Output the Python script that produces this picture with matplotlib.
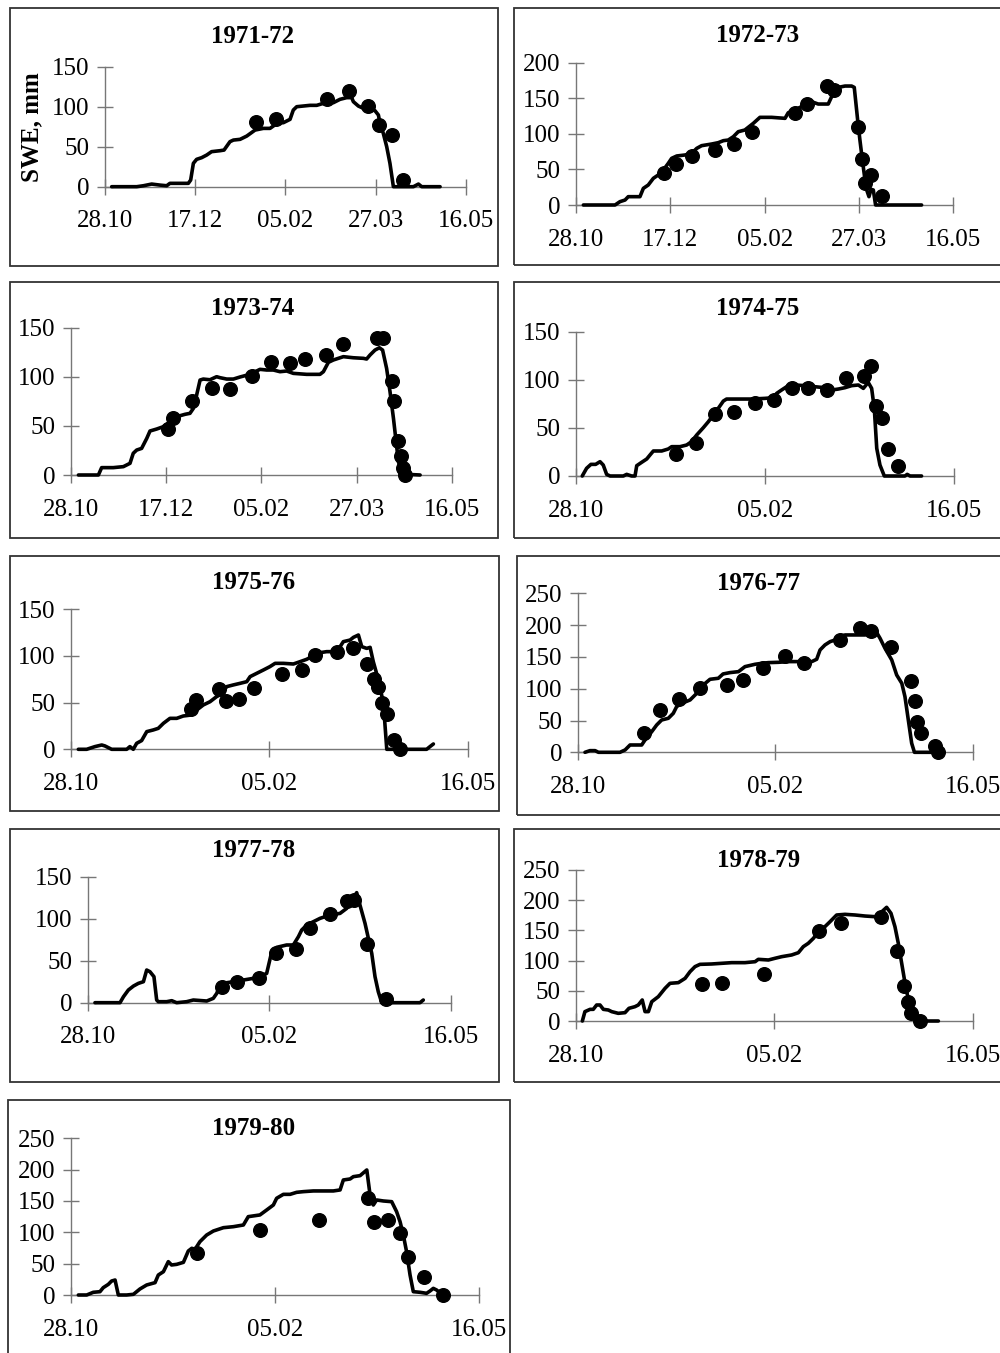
import matplotlib
matplotlib.use("Agg")
import matplotlib.pyplot as plt
from matplotlib.patches import Rectangle

# ---------------- data (day = days since 28.10, swe in mm) ----------------
seasons = ["1971-72", "1972-73", "1973-74", "1974-75", "1975-76",
           "1976-77", "1977-78", "1978-79", "1979-80"]

sim_day_1971 = [3.7, 17.6, 21.3, 25.9, 30.5, 34.2, 36.0, 46.2, 47.5, 49.0, 50.8, 53.6, 56.4, 59.1, 63.8, 66.0,
                69.3, 71.2, 74.9, 78.6, 83.2, 87.8, 91.5, 93.3, 96.1, 98.9, 102.6, 104.4, 106.3, 113.7, 117.4,
                121.1, 124.8, 126.6, 130.3, 134.0, 136.8, 137.7, 140.5, 143.3, 146.9, 149.7, 151.6, 152.5,
                154.3, 156.2, 158.0, 159.9, 171.0, 173.8, 175.6, 185.8]
sim_swe_1971 = [0, 0, 1.2, 3.3, 2, 1.2, 4.2, 4.2, 8.3, 29.2, 34.2, 36.3, 39.6, 43.8, 45, 45.8, 56.3, 58.3, 59.2,
                63.3, 70.8, 72.9, 72.9, 75.8, 80, 80, 84.2, 95.8, 100, 101.7, 101.7, 104.2, 106.3, 105, 109.2,
                111.3, 111.3, 106.3, 100.8, 97.9, 97.9, 95, 89.6, 79.2, 66.7, 50, 29.2, 0, 0, 3.3, 0, 0]
obs_day_1971 = [83.7, 94.8, 122.9, 135.5, 146.0, 152.1, 159.0, 165.1]
obs_swe_1971 = [81, 85, 110, 120, 101, 77, 65, 9]

sim_day_1972 = [3.9, 20.7, 23.3, 26.0, 27.7, 33.9, 35.7, 38.3, 41.0, 43.6, 46.3, 48.9, 50.7, 53.4, 57.8, 61.3,
                64.0, 66.6, 71.9, 75.4, 78.1, 80.7, 83.4, 86.0, 89.5, 94.0, 97.5, 103.7, 110.8, 112.5, 116.1,
                118.7, 121.4, 124.9, 128.4, 133.7, 135.5, 137.3, 139.0, 142.6, 146.1, 147.5, 148.2, 149.3,
                150.5, 151.8, 153.2, 154.1, 155.3, 156.4, 157.6, 158.8, 183.2]
sim_swe_1972 = [0, 0, 4.7, 7.0, 11.7, 11.7, 23.4, 28.1, 37.5, 42.2, 49.2, 58.5, 65.6, 68.9, 70.3, 72.6, 79.6,
                83.4, 85.7, 87.6, 90.4, 91.3, 96.0, 103.0, 105.4, 114.8, 123.2, 123.2, 121.8, 129.7, 133.5,
                137.2, 140.5, 145.2, 141.9, 141.9, 152.2, 165.3, 165.3, 167.2, 167.2, 165.3, 147.5, 119.4,
                91.3, 63.2, 35.1, 21.1, 11.7, 22.0, 21.1, 0, 0]
obs_day_1972 = [46.8, 52.8, 61.3, 73.7, 83.6, 93.5, 116.1, 122.4, 132.9, 136.9, 149.6, 151.8, 153.2, 156.2, 162.4]
obs_swe_1972 = [45, 58, 69, 77, 86, 103, 129, 142, 167, 162, 109, 65, 31, 42, 13]

sim_day_1973 = [3.9, 14.4, 16.1, 22.2, 27.5, 31.0, 32.7, 34.5, 37.1, 39.8, 41.5, 45.0, 48.5, 52.0, 55.5, 59.9,
                62.5, 64.3, 66.0, 67.8, 69.5, 73.0, 76.5, 78.3, 81.8, 85.3, 88.8, 94.0, 99.3, 102.8, 106.3,
                109.8, 113.3, 116.8, 123.8, 130.8, 132.6, 135.2, 137.8, 143.1, 148.3, 153.6, 155.3, 157.1,
                159.7, 162.0, 163.7, 165.8, 167.6, 169.4, 170.8, 172.0, 173.7, 176.0, 183.4]
sim_swe_1973 = [0, 0, 7.5, 7.5, 8.5, 11.9, 22.1, 25.4, 27.1, 37.3, 44.8, 46.8, 49.2, 54.3, 59.4, 61.8, 62.8,
                67.9, 81.4, 96.7, 97.7, 97.0, 100.1, 99.1, 97.7, 97.7, 99.8, 102.5, 107.6, 106.9, 106.9, 105.2,
                105.9, 103.5, 102.5, 102.5, 105.2, 114.7, 117.1, 120.5, 119.4, 118.8, 118.1, 122.2, 127.2,
                129.6, 127.2, 108.6, 84.8, 57.7, 33.9, 13.6, 3.4, 0.7, 0]
obs_day_1973 = [51.1, 53.4, 63.4, 73.9, 83.5, 95.3, 105.1, 115.1, 122.9, 134.0, 143.1, 160.6, 164.1, 168.8,
                169.7, 172.0, 173.2, 174.6, 175.7]
obs_swe_1973 = [47, 58, 75, 89, 88, 101, 115, 114, 118, 122, 133, 140, 140, 96, 75, 35, 19, 7.5, 0]

sim_day_1974 = [3.3, 5.6, 7.9, 10.4, 12.7, 14.4, 16.2, 18.0, 25.0, 26.8, 29.4, 31.2, 32.1, 34.7, 37.4, 39.1,
                40.9, 45.3, 48.8, 50.6, 55.0, 58.5, 61.1, 63.8, 67.3, 70.0, 72.6, 75.2, 77.9, 79.6, 85.8, 92.9,
                99.9, 104.3, 106.1, 108.7, 112.2, 115.8, 121.1, 126.3, 131.6, 135.2, 138.7, 142.2, 145.7,
                149.3, 151.9, 154.5, 156.3, 157.7, 159.0, 160.7, 163.0, 173.9, 175.1, 176.6, 182.7]
sim_swe_1974 = [0, 8.0, 12.1, 12.1, 14.9, 11.4, 1.7, 0, 0, 1.7, 0, 0, 10.7, 14.2, 17.7, 21.8, 26.0, 26.0, 28.1,
                30.5, 30.5, 32.2, 35.7, 42.6, 50.2, 56.5, 63.4, 70.3, 77.9, 80.0, 80.0, 80.0, 80.7, 81.4, 85.9,
                89.4, 93.9, 94.6, 93.9, 92.8, 91.8, 89.4, 90.4, 91.8, 93.9, 94.6, 91.1, 97.3, 91.1, 70.3, 28.7,
                11.4, 0, 0, 1.7, 0, 0]
obs_day_1974 = [52.7, 63.4, 73.5, 83.7, 94.6, 104.6, 114.4, 122.5, 132.5, 142.6, 152.4, 155.8, 158.6, 161.6,
                165.1, 170.4]
obs_swe_1974 = [22.5, 34.6, 64.1, 66.2, 76.2, 79.0, 91.8, 91.8, 89.4, 101.5, 103.9, 114.3, 72.7, 59.9, 28.1, 10.7]

sim_day_1975 = [3.7, 7.9, 12.1, 15.5, 17.1, 20.5, 28.1, 29.7, 31.4, 33.1, 35.6, 38.2, 41.5, 44.0, 46.6, 49.9,
                53.3, 56.6, 60.8, 63.4, 66.7, 70.1, 73.4, 75.9, 78.5, 81.8, 85.2, 88.6, 90.3, 93.6, 97.0, 100.3,
                102.9, 107.1, 112.1, 115.5, 118.8, 123.0, 125.5, 128.9, 132.3, 134.8, 137.3, 140.7, 142.4,
                144.9, 146.6, 149.1, 150.8, 152.4, 155.0, 157.5, 159.2, 179.3, 181.0, 182.7]
sim_swe_1975 = [0, 0, 2.9, 4.6, 3.6, 0, 0, 2.9, 0, 6.4, 9.3, 18.9, 20.7, 22.4, 27.8, 33.1, 33.1, 35.6, 36.7,
                42.0, 47.4, 50.9, 56.3, 59.1, 67.0, 68.8, 70.5, 72.3, 77.7, 81.2, 84.8, 88.4, 91.9, 91.9, 91.2,
                93.7, 96.2, 100.8, 103.3, 104.4, 104.4, 106.9, 115.1, 116.8, 119.7, 122.2, 109.7, 107.9, 109.0,
                93.7, 74.1, 49.2, 0, 0, 2.9, 5.7]
obs_day_1975 = [60.3, 63.0, 74.8, 78.0, 84.9, 92.3, 106.2, 116.6, 123.0, 133.9, 142.0, 149.1, 152.8, 155.0,
                157.0, 159.2, 163.0, 165.9]
obs_swe_1975 = [42.7, 52.7, 64.1, 52.0, 53.8, 65.9, 80.5, 84.8, 100.8, 104.4, 107.9, 91.2, 74.8, 67.0, 49.9,
                37.4, 10.0, 0]

sim_day_1976 = [3.7, 6.2, 8.8, 10.5, 21.4, 24.0, 26.5, 32.4, 34.1, 37.5, 40.0, 42.5, 45.9, 48.4, 50.1, 52.7,
                56.9, 60.3, 63.6, 67.0, 71.2, 73.6, 77.1, 81.4, 84.7, 89.8, 93.2, 96.5, 101.6, 106.7, 111.7,
                118.5, 121.0, 122.7, 125.2, 127.8, 130.3, 132.8, 135.4, 140.4, 145.5, 148.9, 151.4, 153.1,
                155.6, 159.0, 161.5, 164.1, 165.7, 167.4, 169.1, 170.5, 182.6]
sim_swe_1976 = [0, 2.6, 2.6, 0, 0, 3.7, 11.5, 11.5, 19.4, 32.5, 43.0, 50.8, 53.5, 61.3, 71.8, 77.0, 82.3, 92.8,
                105.9, 114.8, 116.4, 123.2, 125.3, 126.8, 134.7, 138.4, 139.9, 141.0, 141.5, 142.6, 142.6, 142.6,
                146.3, 160.9, 168.8, 174.0, 176.6, 181.9, 184.5, 184.5, 184.5, 189.7, 188.2, 179.2, 163.5,
                145.2, 121.6, 108.5, 87.5, 50.8, 14.2, 0, 0]
obs_day_1976 = [33.8, 41.7, 51.3, 61.9, 75.4, 83.9, 93.7, 105.0, 114.8, 132.8, 143.0, 148.5, 158.5, 168.6,
                170.8, 172.0, 173.8, 180.9, 182.6]
obs_swe_1976 = [30.9, 66.6, 83.3, 100.6, 105.9, 113.7, 132.1, 151.5, 141.0, 176.6, 195.0, 190.8, 165.1, 112.7,
                81.2, 48.2, 29.9, 10.0, 0]

sim_day_1977 = [4.0, 17.8, 19.7, 22.4, 25.2, 27.9, 30.7, 32.5, 34.3, 36.5, 38.0, 38.9, 43.5, 46.3, 49.0, 54.5,
                58.2, 65.6, 69.2, 71.1, 72.9, 76.6, 80.3, 85.8, 91.3, 94.9, 98.6, 101.4, 104.1, 109.6, 113.3,
                116.1, 117.9, 120.7, 124.3, 128.0, 133.5, 139.0, 142.7, 145.5, 148.2, 150.0, 152.8, 156.5,
                158.3, 160.1, 162.0, 183.1, 184.9]
sim_swe_1977 = [0, 0, 7.1, 15.1, 19.8, 23.0, 25.0, 38.9, 36.9, 31.0, 3.2, 1.2, 1.2, 2.4, 0, 1.2, 3.2, 2.0, 5.2,
                11.1, 21.0, 23.8, 25.0, 27.0, 29.0, 31.0, 34.9, 60.7, 65.9, 68.7, 68.7, 78.6, 86.5, 92.5, 96.4,
                100.4, 104.4, 106.3, 112.3, 122.2, 131.0, 116.3, 94.4, 58.7, 31.0, 13.1, 0, 0, 3.2]
obs_day_1977 = [73.8, 82.5, 94.6, 103.8, 114.8, 122.5, 133.5, 142.7, 146.7, 153.7, 164.2]
obs_swe_1977 = [19.0, 24.2, 29.8, 58.7, 63.5, 88.5, 105.2, 121.4, 122.2, 69.8, 4.4]

sim_day_1978 = [3.2, 4.5, 7.1, 8.7, 10.4, 12.1, 13.8, 16.3, 18.0, 21.3, 24.7, 26.7, 29.7, 31.4, 33.4, 34.8,
                36.5, 38.2, 41.5, 44.9, 47.4, 51.6, 55.0, 57.5, 60.0, 62.5, 68.4, 73.4, 78.5, 85.2, 90.3, 91.9,
                97.0, 100.3, 103.7, 108.7, 112.1, 114.6, 117.1, 119.7, 122.2, 125.5, 128.1, 131.4, 135.6,
                140.7, 145.7, 150.8, 153.3, 156.6, 158.8, 160.8, 162.5, 164.2, 165.9, 167.6, 169.2, 172.6,
                176.0, 182.7]
sim_swe_1978 = [0, 15.5, 19.3, 19.3, 26.5, 26.5, 19.3, 18.2, 15.5, 12.7, 13.8, 21.0, 23.7, 26.5, 34.8, 15.5,
                15.5, 32.0, 40.3, 54.1, 62.4, 63.5, 70.6, 81.7, 90.0, 93.8, 94.4, 95.5, 96.6, 96.6, 98.2, 102.1,
                101.0, 103.8, 106.5, 109.3, 113.1, 123.1, 128.6, 136.9, 147.9, 156.2, 164.5, 175.5, 176.6,
                175.5, 173.8, 172.7, 178.3, 188.2, 178.3, 156.2, 128.6, 95.5, 62.4, 34.8, 15.5, 4.4, 0, 0]
obs_day_1978 = [63.4, 73.4, 94.8, 122.5, 133.6, 153.8, 162.0, 165.5, 167.6, 168.9, 173.4]
obs_swe_1978 = [60.7, 63.5, 77.8, 149.0, 162.8, 171.6, 115.9, 58.5, 32.0, 13.8, 0]

sim_day_1979 = [3.6, 7.7, 10.9, 14.2, 15.8, 18.3, 19.9, 21.6, 23.2, 27.3, 30.6, 33.8, 37.1, 41.2, 42.8, 45.3,
                47.7, 49.3, 51.8, 55.1, 57.5, 59.2, 60.8, 63.2, 66.5, 69.8, 74.7, 79.6, 84.5, 86.9, 92.6, 95.9,
                99.2, 100.8, 104.1, 107.4, 110.6, 113.9, 118.8, 123.7, 128.6, 131.9, 133.5, 136.8, 138.4,
                141.7, 145.0, 146.6, 148.2, 149.8, 153.1, 157.2, 159.6, 161.3, 162.9, 164.5, 166.2, 167.8,
                171.1, 174.3, 176.0, 177.6, 179.2, 181.7]
sim_swe_1979 = [0, 0, 4.3, 5.3, 11.7, 17.0, 22.3, 23.9, 0, 0, 1.1, 9.6, 16.0, 19.7, 31.9, 37.2, 53.2, 47.9,
                48.9, 52.1, 70.2, 74.5, 72.9, 85.1, 95.7, 102.1, 107.4, 109.0, 111.7, 125.0, 127.7, 135.6, 143.6,
                154.3, 160.6, 160.6, 163.8, 164.9, 166.0, 166.0, 166.0, 167.6, 183.5, 185.1, 188.8, 190.4,
                199.5, 159.6, 143.6, 151.6, 150.0, 148.9, 133.0, 117.0, 95.7, 69.1, 31.9, 5.3, 4.3, 2.7, 6.4,
                10.6, 8.0, 1.1]
obs_day_1979 = [61.6, 92.6, 121.7, 145.4, 148.7, 155.2, 161.3, 165.4, 173.2, 182.2]
obs_swe_1979 = [66.5, 103.7, 119.7, 154.3, 117.0, 119.7, 98.4, 61.2, 29.3, 0]

y_max = [150, 200, 150, 150, 150, 250, 150, 250, 250]
xtick_days_full = [0, 50, 100, 150, 200]
xtick_labels_full = ["28.10", "17.12", "05.02", "27.03", "16.05"]
xtick_days_short = [0, 100, 200]
xtick_labels_short = ["28.10", "05.02", "16.05"]
y_label = "SWE, mm"

sim_days = [sim_day_1971, sim_day_1972, sim_day_1973, sim_day_1974, sim_day_1975,
            sim_day_1976, sim_day_1977, sim_day_1978, sim_day_1979]
sim_swes = [sim_swe_1971, sim_swe_1972, sim_swe_1973, sim_swe_1974, sim_swe_1975,
            sim_swe_1976, sim_swe_1977, sim_swe_1978, sim_swe_1979]
obs_days = [obs_day_1971, obs_day_1972, obs_day_1973, obs_day_1974, obs_day_1975,
            obs_day_1976, obs_day_1977, obs_day_1978, obs_day_1979]
obs_swes = [obs_swe_1971, obs_swe_1972, obs_swe_1973, obs_swe_1974, obs_swe_1975,
            obs_swe_1976, obs_swe_1977, obs_swe_1978, obs_swe_1979]

# ---------------- layout (pixels) ----------------
W, H = 1000, 1353
# axes: x at day 0, x at day 200, y pixel at 0, y pixel at ymax
axes_px = [(105, 465.7, 186.7, 66.7), (576, 953.3, 205, 62.7),
           (71, 451.7, 475, 327.7), (576, 954.3, 476, 331.7),
           (71, 467.7, 749.3, 609), (577.7, 972.7, 752.3, 593.3),
           (87.7, 450.7, 1002.7, 876.7), (576, 972.7, 1021, 870),
           (71, 479, 1295, 1138.3)]
boxes_px = [(9.5, 8, 497.5, 265.5), (514, 8, 1006, 265),
            (9.5, 282, 498, 538), (514, 282, 1006, 538),
            (9.5, 556, 499, 811), (517, 556, 1006, 815),
            (9.5, 829, 499, 1082), (514, 829, 1006, 1082),
            (8, 1100, 510, 1362)]
titles_px = [(253, 43), (758, 42), (253, 315), (758, 315), (254, 589),
             (759, 590), (254, 857), (759, 867), (254, 1135)]

FONT = "Liberation Serif"
FS = 18
AXC = "#777777"

fig = plt.figure(figsize=(W / 100, H / 100), dpi=100)
fig.patch.set_facecolor("white")

for i in range(9):
    bx0, by0, bx1, by1 = boxes_px[i]
    fig.patches.append(Rectangle((bx0 / W, 1 - by1 / H), (bx1 - bx0) / W, (by1 - by0) / H,
                                 transform=fig.transFigure, fill=False, lw=1.3,
                                 edgecolor="#333333", zorder=0))
    x0, x1, y0, yt = axes_px[i]
    ax = fig.add_axes([x0 / W, 1 - y0 / H, (x1 - x0) / W, (y0 - yt) / H])
    ax.set_facecolor("none")
    ax.plot(sim_days[i], sim_swes[i], color="black", lw=2.6, solid_joinstyle="round",
            solid_capstyle="round", zorder=3, clip_on=False)
    ax.plot(obs_days[i], obs_swes[i], "o", color="black", ms=9.8, zorder=4, clip_on=False)
    ax.set_xlim(0, 200)
    ax.set_ylim(0, y_max[i])
    ax.set_yticks(list(range(0, y_max[i] + 1, 50)))
    if i < 3:
        ax.set_xticks(xtick_days_full)
        ax.set_xticklabels(xtick_labels_full)
    else:
        ax.set_xticks(xtick_days_short)
        ax.set_xticklabels(xtick_labels_short)
    for s in ("top", "right"):
        ax.spines[s].set_visible(False)
    for s in ("left", "bottom"):
        ax.spines[s].set_color(AXC)
        ax.spines[s].set_linewidth(1.0)
    ax.tick_params(axis="both", direction="inout", length=12, width=1.0, color=AXC,
                   labelcolor="black", labelsize=FS)
    ax.tick_params(axis="x", pad=11)
    ax.tick_params(axis="y", pad=5)
    for lab in ax.get_xticklabels() + ax.get_yticklabels():
        lab.set_fontfamily(FONT)
    tx, ty = titles_px[i]
    fig.text(tx / W, 1 - ty / H, seasons[i], ha="center", va="baseline",
             fontsize=FS, fontweight="bold", fontfamily=FONT)

fig.text(31.7 / W, 1 - 127 / H, y_label, rotation=90, ha="center", va="center",
         fontsize=FS, fontweight="bold", fontfamily=FONT)

fig.savefig("out.png", dpi=100)
